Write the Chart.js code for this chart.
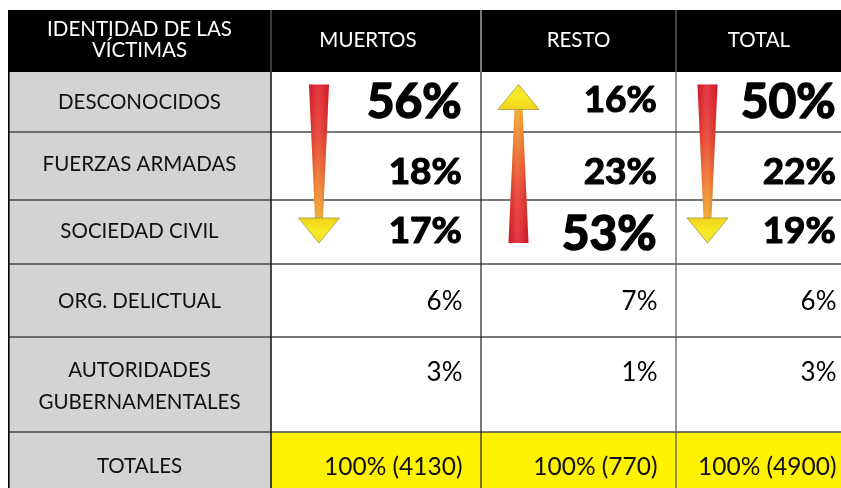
<!DOCTYPE html>
<html><head><meta charset="utf-8">
<script src="https://cdn.jsdelivr.net/npm/chart.js@4.4.1/dist/chart.umd.min.js"></script>
<style>html,body{margin:0;padding:0;background:#fff;}#wrap{width:841px;height:488px;position:relative;}</style>
</head><body><div id="wrap"><canvas id="c"></canvas></div>
<script>
// ---- data ----
const headerLabel = ['IDENTIDAD DE LAS', 'VÍCTIMAS'];
const columns = ['MUERTOS', 'RESTO', 'TOTAL'];
const categories = ['DESCONOCIDOS', 'FUERZAS ARMADAS', 'SOCIEDAD CIVIL', 'ORG. DELICTUAL', ['AUTORIDADES', 'GUBERNAMENTALES']];
const muertos = [56, 18, 17, 6, 3];
const resto = [16, 23, 53, 7, 1];
const total = [50, 22, 19, 6, 3];
const totalsLabel = 'TOTALES';
const totalsPct = [100, 100, 100];
const totalsCount = [4130, 770, 4900];
const trendFrom = [0, 0, 0];      // category index where each column's arrow starts
const trendTo = [2, 2, 2];        // category index where it ends
const trendDir = ['down', 'up', 'down'];

// ---- layout (scale units) ----
const LAYOUT = {
  colEdges: [8, 271, 481, 676, 842],
  rowEdges: [10, 72, 132, 200, 264, 337, 432, 500],
  labelCenters: [102, 164, 230.5, 300.5, [370, 402]],
  headerLines: [28.5, 50],
  valueCapTop: [85, 157.5, 216.5, 291, 362],
  totalsCapTop: 457,
  valueRight: [462.5, 657.5, 836.5],
  arrowCenter: [319, 518.5, 707.5],
  arrowTop: 84.5,
  arrowBottom: 243
};
const CAP = 0.7165;
const FONT = 'Lato, "Open Sans", sans-serif';
const seriesValues = [muertos, resto, total];

const tablePlugin = {
  id: 'tablePlugin',
  afterDraw(chart) {
    const ctx = chart.ctx;
    const sx = chart.scales.x, sy = chart.scales.y;
    const X = v => sx.getPixelForValue(v);
    const Y = v => sy.getPixelForValue(v);
    const L = LAYOUT;
    const ce = L.colEdges, re = L.rowEdges;
    ctx.save();

    function rect(x0, y0, x1, y1, color) {
      ctx.fillStyle = color;
      ctx.fillRect(X(x0), Y(y0), X(x1) - X(x0), Y(y1) - Y(y0));
    }
    function line(x0, y0, x1, y1, color, w) {
      ctx.strokeStyle = color; ctx.lineWidth = w;
      ctx.beginPath(); ctx.moveTo(X(x0), Y(y0)); ctx.lineTo(X(x1), Y(y1)); ctx.stroke();
    }
    function textCenter(t, cx, cy, size, weight, color) {
      ctx.font = weight + ' ' + size + 'px ' + FONT;
      ctx.fillStyle = color; ctx.textAlign = 'center'; ctx.textBaseline = 'alphabetic';
      ctx.fillText(t, X(cx), Y(cy) + CAP * size / 2);
    }
    function textRight(t, rx, capTop, size, weight, color, heavy) {
      ctx.font = weight + ' ' + size + 'px ' + FONT;
      ctx.fillStyle = color; ctx.textAlign = 'right'; ctx.textBaseline = 'alphabetic';
      const bx = X(rx), by = Y(capTop) + CAP * size;
      if (heavy) {
        ctx.strokeStyle = color; ctx.lineWidth = heavy; ctx.lineJoin = 'round';
        ctx.strokeText(t, bx - heavy / 2, by);
      }
      ctx.fillText(t, bx - (heavy ? heavy / 2 : 0), by);
    }

    // backgrounds
    rect(ce[0], re[0], ce[4], re[1], '#000000');
    rect(ce[0], re[1], ce[1], re[7], '#d2d3d5');
    rect(ce[1], re[1], ce[4], re[6], '#ffffff');
    rect(ce[1], re[6], ce[4], re[7], '#fff200');

    // grid lines
    for (let r = 2; r <= 6; r++) line(ce[0], re[r], ce[4], re[r], '#4a4a4a', 1.4);
    line(ce[0] + 0.8, re[0], ce[0] + 0.8, re[7], '#000', 1.6);
    line(ce[1], re[1], ce[1], re[7], '#111', 1.5);
    line(ce[2], re[1], ce[2], re[7], '#222', 1.2);
    line(ce[3], re[1], ce[3], re[7], '#555', 1.2);
    line(ce[1], re[0], ce[1], re[1], '#777', 1);
    line(ce[2], re[0], ce[2], re[1], '#eee', 1);
    line(ce[3], re[0], ce[3], re[1], '#888', 1);

    // header texts
    const hc = (ce[0] + ce[1]) / 2;
    textCenter(headerLabel[0], hc, L.headerLines[0], 20.5, 'normal', '#fff');
    textCenter(headerLabel[1], hc, L.headerLines[1], 20.5, 'normal', '#fff');
    columns.forEach((c, i) => {
      textCenter(c, (ce[i + 1] + ce[i + 2]) / 2 - (i === 0 ? 8 : 0), 40, 20.5, 'normal', '#fff');
    });

    // category labels
    categories.forEach((c, i) => {
      if (Array.isArray(c)) {
        c.forEach((s, k) => textCenter(s, hc, L.labelCenters[i][k], 20.5, 'normal', '#111'));
      } else {
        textCenter(c, hc, L.labelCenters[i], 20.5, 'normal', '#111');
      }
    });
    textCenter(totalsLabel, hc, 466, 20.5, 'normal', '#111');

    // arrows
    function arrow(i) {
      const cx = L.arrowCenter[i];
      const down = trendDir[i] === 'down';
      const yTop = L.arrowTop, yBot = L.arrowBottom;
      const headLen = 25, headHalf = 20.5, wide = 10, narrow = 4;
      let pStart, pHead, pTip;
      if (down) { pStart = yTop; pHead = yBot - headLen; pTip = yBot; }
      else { pStart = yBot; pHead = yTop + headLen; pTip = yTop; }
      const g = ctx.createLinearGradient(0, Y(pStart), 0, Y(pHead));
      g.addColorStop(0, '#e01b2a');
      g.addColorStop(0.35, '#e8342a');
      g.addColorStop(0.75, '#ef7a26');
      g.addColorStop(1, '#f0a722');
      ctx.fillStyle = g;
      ctx.beginPath();
      ctx.moveTo(X(cx - wide), Y(pStart));
      ctx.lineTo(X(cx + wide), Y(pStart));
      ctx.lineTo(X(cx + narrow), Y(pHead));
      ctx.lineTo(X(cx - narrow), Y(pHead));
      ctx.closePath(); ctx.fill();
      const hg = ctx.createLinearGradient(X(cx - wide), 0, X(cx + wide), 0);
      hg.addColorStop(0, 'rgba(120,0,0,0.18)');
      hg.addColorStop(0.45, 'rgba(255,255,255,0.12)');
      hg.addColorStop(1, 'rgba(120,0,0,0.2)');
      ctx.fillStyle = hg; ctx.fill();
      const g2 = ctx.createLinearGradient(0, Y(pHead), 0, Y(pTip));
      g2.addColorStop(0, '#f2d21c');
      g2.addColorStop(0.5, '#f7ea22');
      g2.addColorStop(1, '#efe030');
      ctx.fillStyle = g2;
      ctx.beginPath();
      ctx.moveTo(X(cx - headHalf), Y(pHead));
      ctx.lineTo(X(cx + headHalf), Y(pHead));
      ctx.lineTo(X(cx), Y(pTip));
      ctx.closePath(); ctx.fill();
      ctx.strokeStyle = 'rgba(150,140,60,0.7)'; ctx.lineWidth = 1; ctx.stroke();
    }
    for (let i = 0; i < columns.length; i++) arrow(i);

    // values
    seriesValues.forEach((vals, c) => {
      const rx = L.valueRight[c];
      const inTrend = vals.slice(trendFrom[c], trendTo[c] + 1);
      const peak = Math.max(...inTrend);
      vals.forEach((v, r) => {
        let size = 26, weight = 'normal', top = L.valueCapTop[r], heavy = 0;
        if (r >= trendFrom[c] && r <= trendTo[c]) {
          weight = 'bold';
          if (v === peak) { size = 48; top -= 1; heavy = 1.6; } else { size = 37; heavy = 1.2; }
        }
        textRight(v + '%', rx, top, size, weight, '#000', heavy);
      });
      textRight(totalsPct[c] + '% (' + totalsCount[c] + ')', rx, L.totalsCapTop, 24.5, 'normal', '#111', 0);
    });
    ctx.restore();
  }
};

new Chart(document.getElementById('c'), {
  type: 'scatter',
  data: { datasets: [] },
  options: {
    responsive: true,
    maintainAspectRatio: false,
    animation: false,
    layout: { padding: 0 },
    plugins: { legend: { display: false }, tooltip: { enabled: false } },
    scales: {
      x: { type: 'linear', min: 0, max: 841, display: false },
      y: { type: 'linear', min: 0, max: 488, reverse: true, display: false }
    }
  },
  plugins: [tablePlugin]
});
</script></body></html>
